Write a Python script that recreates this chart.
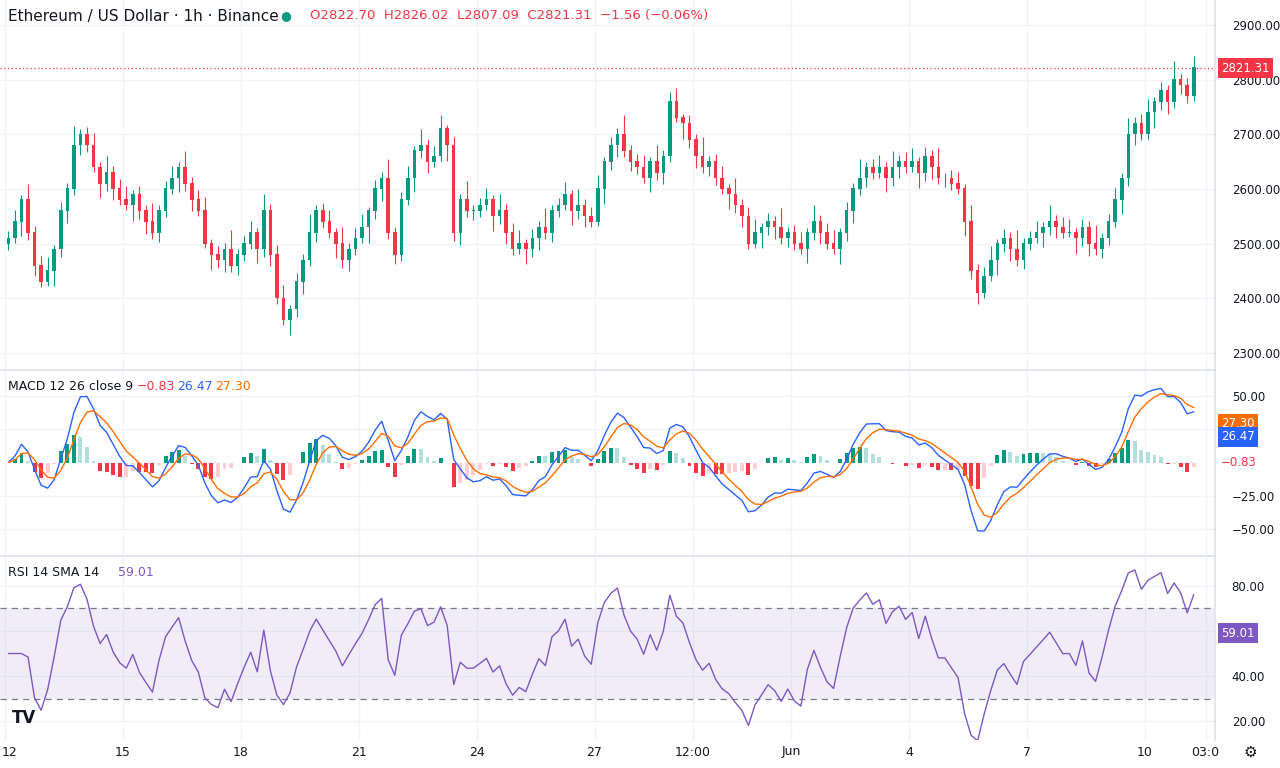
import numpy as np, pandas as pd, seaborn as sns, matplotlib
matplotlib.use("Agg")
import matplotlib.pyplot as plt

# 4-hour closes from May 12 00:00 (read approx from picture)
closes = [2510,2540,2580,2520,2460,2430, 2450,2490,2560,2600,2680,2700, 2680,2640,2610,2630,2600,2580,
          2570,2590,2560,2540,2520,2560, 2600,2620,2640,2610,2580,2560, 2500,2480,2470,2490,2460,2480,
          2500,2520,2490,2560,2480,2400, 2360,2380,2430,2470,2520,2560, 2540,2520,2500,2470,2490,2510,
          2530,2560,2600,2620,2520,2480, 2580,2620,2670,2680,2650,2660, 2710,2680,2520,2580,2560,2560,
          2570,2580,2550,2560,2520,2490, 2500,2490,2510,2530,2520,2560, 2570,2590,2560,2570,2550,2540,
          2600,2650,2680,2700,2670,2650, 2640,2620,2650,2630,2660,2760, 2730,2720,2690,2660,2640,2650,
          2620,2600,2590,2570,2550,2500, 2520,2530,2540,2530,2510,2520, 2500,2490,2520,2540,2520,2500,
          2490,2520,2560,2600,2620,2640, 2630,2640,2620,2640,2650,2640, 2650,2630,2660,2640,2620,2620,
          2610,2600,2540,2450,2410,2440, 2470,2500,2510,2490,2470,2500, 2510,2520,2530,2540,2530,2520,
          2520,2510,2530,2500,2490,2510, 2540,2580,2620,2700,2720,2700, 2740,2760,2780,2760,2800,2790,
          2770,2821.31]
wick_up = [14,22,9,30,12,18,25,8,16,11,35,10]
wick_dn = [12,9,26,14,20,10,8,28,15,22,11,17]
first_open = 2500
day_ticks = [0,3,6,9,12,15,17.5,20,23,26,29,30.55]
day_labels = ["12","15","18","21","24","27","12:00","Jun","4","7","10","03:0"]

GREEN, RED = "#089981", "#F23645"
BLUE, ORANGE, PURPLE = "#2962FF", "#FF6D00", "#7E57C2"
GRID = "#f0f3fa"; TXT = "#131722"

c = np.array(closes, float)
o = np.concatenate([[first_open], c[:-1]])
n = len(c)
hi = np.maximum(o, c) + np.array([wick_up[i % 12] for i in range(n)])
lo = np.minimum(o, c) - np.array([wick_dn[i % 12] for i in range(n)])
x = np.arange(n) / 6 + 1/12

s = pd.Series(c)
macd = s.ewm(span=5, adjust=False).mean() - s.ewm(span=10, adjust=False).mean()
sig = macd.ewm(span=4, adjust=False).mean()
hist = macd - sig
d = s.diff().fillna(0)
up = d.clip(lower=0).ewm(alpha=1/7, adjust=False).mean()
dn = (-d.clip(upper=0)).ewm(alpha=1/7, adjust=False).mean()
rsi = (100 - 100 / (1 + up / dn.replace(0, np.nan))).fillna(50)
rsi.iloc[0] = 50
df = pd.DataFrame({"x": x, "macd": macd, "sig": sig, "rsi": rsi})

sns.set_theme(style="white")
fig = plt.figure(figsize=(12.8, 7.68), dpi=100)
W = 1215/1280
ax1 = fig.add_axes([0, 399/768, W, 369/768])
ax2 = fig.add_axes([0, 213/768, W, 185/768])
ax3 = fig.add_axes([0, 28/768, W, 184/768])
xmin, xmax = -0.13, 30.79
for ax in (ax1, ax2, ax3):
    ax.set_xlim(xmin, xmax)
    for sp in ax.spines.values(): sp.set_visible(False)
    ax.spines["right"].set_visible(True); ax.spines["right"].set_color("#e0e3eb")
    ax.tick_params(left=False, bottom=False, labelbottom=False, labelleft=False, right=False,
                   labelright=True, labelsize=8.5, labelcolor=TXT, pad=6)
    ax.set_xticks(day_ticks)
    ax.grid(True, color=GRID, lw=1)
for ax in (ax2, ax3):
    ax.spines["top"].set_visible(True); ax.spines["top"].set_color("#e0e3eb")

cols = [GREEN if cc >= oo else RED for oo, cc in zip(o, c)]
ax1.vlines(x, lo, hi, colors=cols, lw=0.8)
ax1.bar(x, np.abs(c - o) + 1, bottom=np.minimum(o, c), width=0.09, color=cols, lw=0)
ax1.set_ylim(2270.7, 2945.8)
ax1.set_yticks([2300,2400,2500,2600,2700,2800,2900])
ax1.set_yticklabels([f"{v:.2f}" for v in [2300,2400,2500,2600,2700,2800,2900]])
ax1.axhline(c[-1], color=RED, ls=(0,(1,2)), lw=0.9)

def tag(ax, yv, txt, fc, tc="white"):
    y0, y1 = ax.get_ylim()
    ax.text(1.005, (yv-y0)/(y1-y0), txt, transform=ax.transAxes, color=tc, fontsize=8.5, va="center",
            ha="left", bbox=dict(fc=fc, ec="none", boxstyle="square,pad=0.3") if fc else None)
tag(ax1, c[-1], f"{c[-1]:.2f}", RED)
fig.text(8/1280, 1-16/768, "Ethereum / US Dollar · 1h · Binance", fontsize=11, color=TXT, va="center")
fig.text(286/1280, 1-16/768, "●", fontsize=9, color=GREEN, va="center", ha="center")
fig.text(310/1280, 1-16/768, "O2822.70  H2826.02  L2807.09  C2821.31  −1.56 (−0.06%)", fontsize=9.5,
         color=RED, va="center")

hc = []
for i, h in enumerate(hist):
    prev = hist.iloc[i-1] if i else 0
    if h >= 0: hc.append(GREEN if h >= prev else "#b2dfdb")
    else: hc.append(RED if h <= prev else "#ffcdd2")
ax2.bar(x, hist, width=0.1, color=hc, lw=0)
sns.lineplot(data=df, x="x", y="macd", ax=ax2, color=BLUE, lw=1)
sns.lineplot(data=df, x="x", y="sig", ax=ax2, color=ORANGE, lw=1)
ax2.set_xlabel(""); ax2.set_ylabel("")
lim = max(abs(macd).max(), 1) * 1.25
ax2.set_ylim(-lim, lim)
ax2.set_yticks([lim*0.72, lim*0.36, -lim*0.36, -lim*0.72])
ax2.set_yticklabels(["50.00", "", "−25.00", "−50.00"])
tag(ax2, lim*0.42, "27.30", ORANGE)
tag(ax2, lim*0.28, "26.47", BLUE)
tag(ax2, 0, "−0.83", None, RED)
ty = 1-387/768
fig.text(8/1280, ty, "MACD 12 26 close 9", fontsize=9, color=TXT, va="center")
fig.text(137/1280, ty, "−0.83", fontsize=9, color=RED, va="center")
fig.text(177/1280, ty, "26.47", fontsize=9, color=BLUE, va="center")
fig.text(215/1280, ty, "27.30", fontsize=9, color=ORANGE, va="center")

ax3.axhspan(30, 70, color=PURPLE, alpha=0.1, lw=0)
for v in (30, 70): ax3.axhline(v, color="#787b86", ls=(0,(5,4)), lw=0.9)
sns.lineplot(data=df, x="x", y="rsi", ax=ax3, color=PURPLE, lw=1)
ax3.set_xlabel(""); ax3.set_ylabel("")
ax3.set_ylim(11.6, 93.3)
ax3.set_yticks([20, 40, 60, 80]); ax3.set_yticklabels(["20.00", "40.00", "", "80.00"])
tag(ax3, 59.01, "59.01", PURPLE)
ty = 1-573/768
fig.text(8/1280, ty, "RSI 14 SMA 14", fontsize=9, color=TXT, va="center")
fig.text(118/1280, ty, "59.01", fontsize=9, color=PURPLE, va="center")
fig.text(12/1280, 1-718/768, "TV", fontsize=12, fontweight="bold", color=TXT, va="center")

for t, lab in zip(day_ticks, day_labels):
    xp = W*(t-xmin)/(xmax-xmin)
    fig.text(max(xp, 10/1280), 1-752/768, lab, fontsize=9, color=TXT, ha="center", va="center")
fig.text(1250/1280, 1-752/768, "⚙", fontsize=11, color=TXT, ha="center", va="center")
fig.savefig("out.png", dpi=100)
